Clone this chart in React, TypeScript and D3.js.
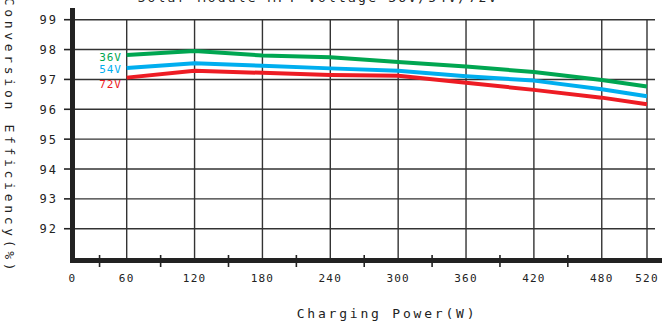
import React from "react";
import * as d3 from "d3";

const powers = [60, 120, 180, 240, 300, 360, 420, 480, 520];
const eff36 = [97.82, 97.95, 97.8, 97.74, 97.58, 97.43, 97.25, 96.98, 96.76];
const eff54 = [97.38, 97.54, 97.46, 97.37, 97.29, 97.11, 96.96, 96.67, 96.44];
const eff72 = [97.06, 97.29, 97.22, 97.15, 97.12, 96.89, 96.65, 96.39, 96.17];
const seriesNames = ["36V", "54V", "72V"];
const seriesColors = ["#00a651", "#00aeef", "#ed1c24"];
const xTickLabels = ["0", "60", "120", "180", "240", "300", "360", "420", "480", "520"];
const xTickValues = [0, 60, 120, 180, 240, 300, 360, 420, 480, 520];
const minorTicks = [36, 90, 150, 210, 270, 330, 390, 450];
const yTicks = [92, 93, 94, 95, 96, 97, 98, 99];

const W = 662;
const H = 322;
const axisX = 72.5;
const axisY = 260.5;
const gridRight = 655;
const font = "'DejaVu Sans Mono', monospace";

export default function App() {
  const x = d3.scaleLinear().domain([60, 520]).range([126.7, 647]);
  const y = d3.scaleLinear().domain([91, 99]).range([258.6, 19.7]);
  const line = d3
    .line<number>()
    .x((_, i) => x(powers[i]))
    .y((d) => y(d));
  const series = [eff36, eff54, eff72];
  const labelY = [61, 73, 88];

  return (
    <svg
      width={W}
      height={H}
      style={{ position: "absolute", left: 0, top: 0, background: "#fff" }}
      fontFamily={font}
    >
      <rect width={W} height={H} fill="#fff" />
      {/* title (partly above the top edge, as in the reference) */}
      <text
        x={318}
        y={2}
        textAnchor="middle"
        fontSize={13}
        letterSpacing={2.2}
        fill="#222"
      >
        Solar Module MPT Voltage 36V/54V/72V
      </text>
      {/* horizontal grid */}
      {yTicks.map((t) => (
        <g key={"h" + t}>
          <line x1={axisX} x2={gridRight} y1={y(t)} y2={y(t)} stroke="#333" strokeWidth={1.4} />
          <line x1={64} x2={axisX} y1={y(t)} y2={y(t)} stroke="#222" strokeWidth={1.6} />
          <text x={58} y={y(t) + 4.5} textAnchor="end" fontSize={12} letterSpacing={2} fill="#222">
            {t}
          </text>
        </g>
      ))}
      {/* vertical grid */}
      {powers.map((p) => (
        <line key={"v" + p} x1={x(p)} x2={x(p)} y1={y(99)} y2={axisY} stroke="#333" strokeWidth={1.4} />
      ))}
      {/* minor ticks */}
      {minorTicks.map((m) => (
        <line key={"m" + m} x1={x(m)} x2={x(m)} y1={255} y2={267} stroke="#222" strokeWidth={1.6} />
      ))}
      {/* x tick labels */}
      {xTickValues.map((v, i) => (
        <text
          key={"xl" + v}
          x={v === 0 ? axisX : x(v)}
          y={282}
          textAnchor="middle"
          fontSize={11}
          letterSpacing={1.2}
          fill="#222"
        >
          {xTickLabels[i]}
        </text>
      ))}
      {/* series lines */}
      {series.map((s, i) => (
        <path key={"s" + i} d={line(s) || ""} fill="none" stroke={seriesColors[i]} strokeWidth={4} strokeLinejoin="round" />
      ))}
      {/* series labels */}
      {seriesNames.map((n, i) => (
        <text key={"n" + n} x={122} y={labelY[i]} textAnchor="end" fontSize={11} letterSpacing={1} fill={seriesColors[i]}>
          {n}
        </text>
      ))}
      {/* axes */}
      <line x1={axisX} x2={axisX} y1={8} y2={axisY + 2.5} stroke="#222" strokeWidth={5} />
      <line x1={axisX - 2.5} x2={W} y1={axisY} y2={axisY} stroke="#222" strokeWidth={5} />
      {/* axis titles */}
      <text
        x={387}
        y={318}
        textAnchor="middle"
        fontSize={13}
        letterSpacing={2.8}
        fill="#222"
      >
        Charging Power(W)
      </text>
      <text
        transform="translate(5,136) rotate(90)"
        textAnchor="middle"
        fontSize={13}
        letterSpacing={3.7}
        fill="#222"
      >
        Conversion Efficiency(%)
      </text>
    </svg>
  );
}
